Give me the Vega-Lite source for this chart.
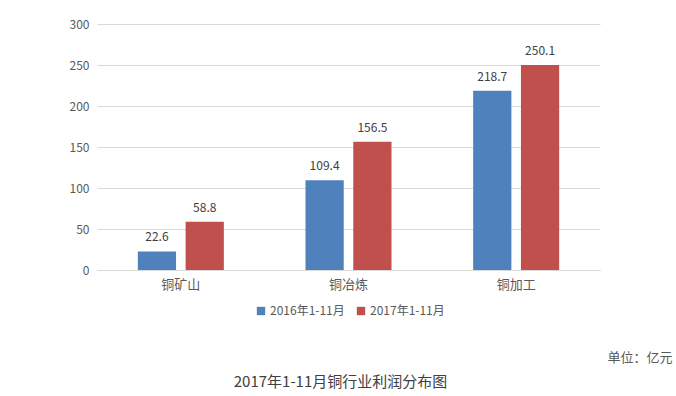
{
  "$schema": "https://vega.github.io/schema/vega-lite/v6.json",
  "autosize": "none",
  "width": 503,
  "height": 246,
  "padding": {"left": 97, "top": 24, "right": 76, "bottom": 126},
  "background": "white",
  "config": {
    "font": "Noto Sans CJK SC",
    "view": {"stroke": null}
  },
  "title": {
    "text": "2017年1-11月铜行业利润分布图",
    "orient": "bottom",
    "anchor": "middle",
    "fontSize": 15,
    "fontWeight": "normal",
    "color": "#404040",
    "dx": -8,
    "offset": 11
  },
  "data": {
    "values": [
      {"cat": "铜矿山", "period": "2016年1-11月", "value": 22.6},
      {"cat": "铜矿山", "period": "2017年1-11月", "value": 58.8},
      {"cat": "铜冶炼", "period": "2016年1-11月", "value": 109.4},
      {"cat": "铜冶炼", "period": "2017年1-11月", "value": 156.5},
      {"cat": "铜加工", "period": "2016年1-11月", "value": 218.7},
      {"cat": "铜加工", "period": "2017年1-11月", "value": 250.1}
    ]
  },
  "encoding": {
    "x": {
      "field": "cat", "type": "nominal", "sort": ["铜矿山", "铜冶炼", "铜加工"],
      "scale": {"paddingInner": 0.487, "paddingOuter": 0.2435},
      "axis": {
        "title": "单位：亿元",
        "titleX": 575, "titleY": 87, "titleAlign": "right", "titleBaseline": "middle",
        "titleFontSize": 13, "titleFontWeight": "normal", "titleColor": "#595959",
        "labelAngle": 0, "labelFontSize": 13, "labelColor": "#595959", "labelPadding": 8,
        "ticks": false, "domainColor": "#d9d9d9", "grid": false
      }
    },
    "xOffset": {"field": "period", "type": "nominal", "scale": {"paddingInner": 0.2, "paddingOuter": 0}},
    "y": {
      "field": "value", "type": "quantitative",
      "scale": {"domain": [0, 300], "nice": false},
      "axis": {
        "title": null, "values": [0, 50, 100, 150, 200, 250, 300],
        "domain": false, "ticks": false, "labelPadding": 8,
        "labelFontSize": 12, "labelColor": "#595959",
        "gridColor": "#d9d9d9"
      }
    }
  },
  "layer": [
    {
      "mark": {"type": "bar"},
      "encoding": {
        "color": {
          "field": "period", "type": "nominal",
          "scale": {"range": ["#4f81bd", "#c0504d"]},
          "legend": {
            "title": null, "orient": "none", "direction": "horizontal",
            "legendX": 158, "legendY": 281,
            "symbolType": "square", "symbolSize": 70, "symbolStrokeWidth": 0,
            "labelFontSize": 12, "labelColor": "#595959", "columnPadding": 10, "labelOffset": 3
          }
        }
      }
    },
    {
      "mark": {"type": "text", "dy": -14, "fontSize": 12, "color": "#404040"},
      "encoding": {"text": {"field": "value", "type": "quantitative", "format": ".1f"}}
    }
  ]
}
